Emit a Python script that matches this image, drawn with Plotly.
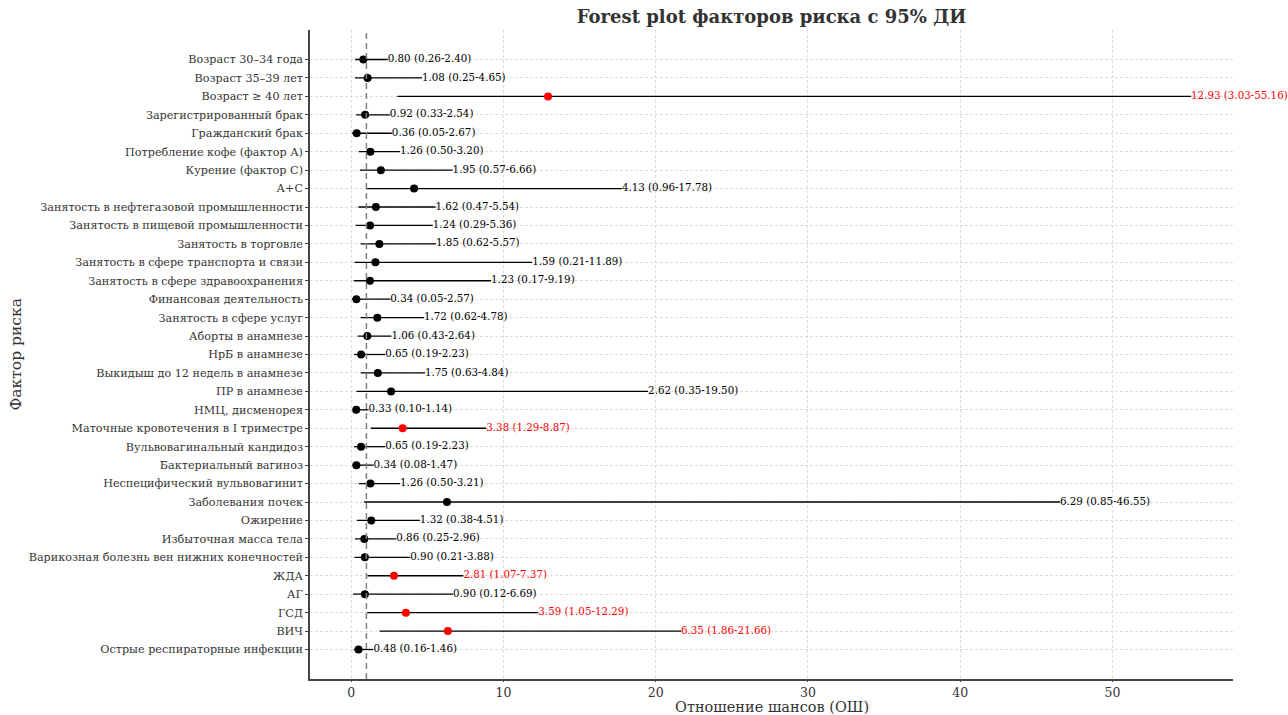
import plotly.graph_objects as go

# Risk factors, odds ratios and 95% confidence limits
factors = [
    "Возраст 30–34 года", "Возраст 35–39 лет", "Возраст ≥ 40 лет",
    "Зарегистрированный брак", "Гражданский брак", "Потребление кофе (фактор А)",
    "Курение (фактор С)", "А+С", "Занятость в нефтегазовой промышленности",
    "Занятость в пищевой промышленности", "Занятость в торговле",
    "Занятость в сфере транспорта и связи", "Занятость в сфере здравоохранения",
    "Финансовая деятельность", "Занятость в сфере услуг", "Аборты в анамнезе",
    "НрБ в анамнезе", "Выкидыш до 12 недель в анамнезе", "ПР в анамнезе",
    "НМЦ, дисменорея", "Маточные кровотечения в I триместре",
    "Вульвовагинальный кандидоз", "Бактериальный вагиноз",
    "Неспецифический вульвовагинит", "Заболевания почек", "Ожирение",
    "Избыточная масса тела", "Варикозная болезнь вен нижних конечностей",
    "ЖДА", "АГ", "ГСД", "ВИЧ", "Острые респираторные инфекции",
]
odds_ratio = [0.80, 1.08, 12.93, 0.92, 0.36, 1.26, 1.95, 4.13, 1.62, 1.24, 1.85,
              1.59, 1.23, 0.34, 1.72, 1.06, 0.65, 1.75, 2.62, 0.33, 3.38, 0.65,
              0.34, 1.26, 6.29, 1.32, 0.86, 0.90, 2.81, 0.90, 3.59, 6.35, 0.48]
ci_low = [0.26, 0.25, 3.03, 0.33, 0.05, 0.50, 0.57, 0.96, 0.47, 0.29, 0.62,
          0.21, 0.17, 0.05, 0.62, 0.43, 0.19, 0.63, 0.35, 0.10, 1.29, 0.19,
          0.08, 0.50, 0.85, 0.38, 0.25, 0.21, 1.07, 0.12, 1.05, 1.86, 0.16]
ci_high = [2.40, 4.65, 55.16, 2.54, 2.67, 3.20, 6.66, 17.78, 5.54, 5.36, 5.57,
           11.89, 9.19, 2.57, 4.78, 2.64, 2.23, 4.84, 19.50, 1.14, 8.87, 2.23,
           1.47, 3.21, 46.55, 4.51, 2.96, 3.88, 7.37, 6.69, 12.29, 21.66, 1.46]
x_ticks = [0, 10, 20, 30, 40, 50]

FONT = "DejaVu Serif"
n = len(factors)
ypos = list(range(n))
significant = [lo > 1 for lo in ci_low]
colors = ["#ff0000" if s else "#000000" for s in significant]

# CI segments as one broken line
seg_x, seg_y = [], []
for i in range(n):
    seg_x += [ci_low[i], ci_high[i], None]
    seg_y += [i, i, None]

labels = [f"{o:.2f} ({l:.2f}-{h:.2f})" for o, l, h in zip(odds_ratio, ci_low, ci_high)]

fig = go.Figure()
fig.add_trace(go.Scatter(x=seg_x, y=seg_y, mode="lines",
                         line=dict(color="#000000", width=1.3),
                         hoverinfo="skip", showlegend=False))
fig.add_trace(go.Scatter(x=odds_ratio, y=ypos, mode="markers",
                         marker=dict(color=colors, size=8, line=dict(width=0)),
                         showlegend=False))
fig.add_trace(go.Scatter(x=ci_high, y=ypos, mode="text", text=labels,
                         textposition="middle right", cliponaxis=False,
                         textfont=dict(family=FONT, size=10.3, color=colors),
                         showlegend=False, hoverinfo="skip"))

# reference line at OR = 1
fig.add_shape(type="line", x0=1, x1=1, y0=0, y1=1, xref="x", yref="paper",
              line=dict(color="#808080", width=1.5, dash="6px,4px"))

lo_all, hi_all = min(ci_low), max(ci_high)
pad = 0.05 * (hi_all - lo_all)

fig.update_layout(
    width=1288, height=715,
    paper_bgcolor="white", plot_bgcolor="white",
    margin=dict(l=310, r=55, t=30, b=36),
    font=dict(family=FONT, color="#333333"),
    title=dict(text="<b>Forest plot факторов риска с 95% ДИ</b>",
               font=dict(family=FONT, size=18, color="#333333"),
               x=(310 + 1233) / 2 / 1288, xanchor="center", y=0.976, yanchor="middle"),
    xaxis=dict(range=[lo_all - pad, hi_all + pad], tickvals=x_ticks,
               showline=True, linecolor="#444444", linewidth=1.5, mirror=False,
               ticks="outside", ticklen=1, tickcolor="#444444",
               showgrid=True, gridcolor="#dddddd", gridwidth=0.8, griddash="3px,2px",
               zeroline=False, tickfont=dict(family=FONT, size=12.5, color="#333333")),
    yaxis=dict(range=[n - 1 + 1.6, -1.6], tickvals=ypos, ticktext=factors,
               showline=True, linecolor="#444444", linewidth=1.5, mirror=False,
               ticks="outside", ticklen=3, tickcolor="#444444",
               showgrid=True, gridcolor="#dddddd", gridwidth=0.8, griddash="3px,2px",
               zeroline=False, tickfont=dict(family=FONT, size=11.2, color="#333333")),
    annotations=[
        dict(text="Отношение шансов (ОШ)", xref="paper", yref="paper",
             x=0.5, y=0, yshift=-28, xanchor="center", yanchor="middle", showarrow=False,
             font=dict(family=FONT, size=14.5, color="#333333")),
        dict(text="Фактор риска", xref="paper", yref="paper", textangle=-90,
             x=0, xshift=-295, y=0.5, xanchor="center", yanchor="middle", showarrow=False,
             font=dict(family=FONT, size=15.5, color="#333333")),
    ],
)

fig.write_html("out.html")
